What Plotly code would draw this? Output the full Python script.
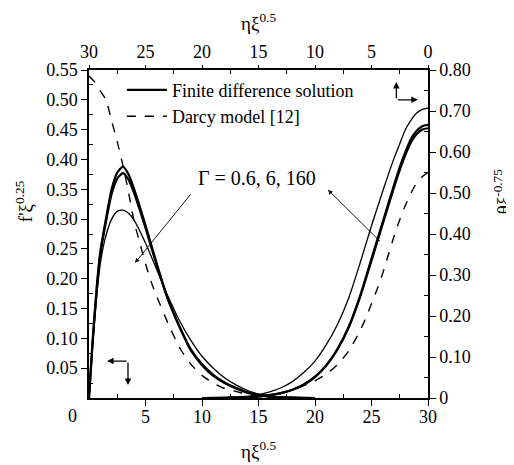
import plotly.graph_objects as go

# ---- velocity profiles f' xi^0.25 vs eta xi^0.5 (bottom / left axes) ----
eta_f = [0, 0.3, 0.7, 1.0, 1.4, 2.0, 2.5, 3.0, 3.5, 4.0, 5.0, 6.0, 7.0, 8.0, 9.0,
         10, 11, 12, 13, 14, 15, 16, 18, 20]
f_a = [0, 0.09, 0.19, 0.245, 0.29, 0.35, 0.378, 0.388, 0.375, 0.35, 0.29, 0.225,
       0.165, 0.12, 0.08, 0.055, 0.037, 0.025, 0.016, 0.009, 0.005, 0.002, 0.0005, 0]
f_b = [0, 0.088, 0.185, 0.24, 0.285, 0.342, 0.368, 0.377, 0.366, 0.343, 0.285, 0.222,
       0.165, 0.12, 0.082, 0.057, 0.039, 0.026, 0.017, 0.01, 0.005, 0.002, 0.0005, 0]
f_c = [0, 0.085, 0.175, 0.225, 0.265, 0.30, 0.313, 0.315, 0.31, 0.298, 0.26, 0.215,
       0.17, 0.13, 0.097, 0.07, 0.05, 0.034, 0.022, 0.013, 0.007, 0.003, 0.001, 0]
eta_fd = [0, 0.5, 1.0, 1.5, 2.0, 2.5, 3.0, 3.5, 4.0, 4.5, 5.0, 5.5, 6.0, 7.0, 8.0,
          9.0, 10, 11, 12, 13, 14, 15, 16, 18]
f_darcy = [0.54, 0.53, 0.515, 0.50, 0.465, 0.43, 0.39, 0.345, 0.295, 0.26, 0.225,
           0.195, 0.17, 0.125, 0.085, 0.057, 0.038, 0.025, 0.016, 0.011, 0.006,
           0.003, 0.001, 0]

# ---- temperature profiles theta xi^-0.75 vs eta xi^0.5 (top / right axes) ----
eta_t = [0, 0.5, 1.0, 1.5, 2.0, 2.5, 3.0, 4.0, 5.0, 6.0, 7.0, 8.0, 9.0, 10, 11,
         12, 13, 14, 15, 16, 18, 20]
t_a = [0.707, 0.704, 0.695, 0.678, 0.655, 0.62, 0.585, 0.505, 0.42, 0.33, 0.245,
       0.18, 0.13, 0.09, 0.062, 0.04, 0.025, 0.015, 0.008, 0.004, 0.001, 0]
t_b = [0.666, 0.663, 0.652, 0.632, 0.60, 0.563, 0.52, 0.43, 0.34, 0.25, 0.175,
       0.12, 0.08, 0.052, 0.033, 0.02, 0.012, 0.007, 0.004, 0.002, 0.0005, 0]
t_c = [0.658, 0.655, 0.644, 0.624, 0.593, 0.556, 0.514, 0.425, 0.335, 0.247, 0.173,
       0.119, 0.079, 0.051, 0.032, 0.02, 0.012, 0.007, 0.004, 0.002, 0.0005, 0]
eta_td = [0, 0.5, 1.0, 1.5, 2.0, 2.5, 3.0, 3.5, 4.0, 4.5, 5.0, 5.5, 6.0, 7.0, 8.0,
          9.0, 10, 11, 12, 13, 14, 15, 16, 18]
t_darcy = [0.55, 0.54, 0.525, 0.50, 0.47, 0.435, 0.395, 0.35, 0.305, 0.265, 0.23,
           0.195, 0.165, 0.115, 0.082, 0.058, 0.042, 0.03, 0.02, 0.013, 0.008,
           0.005, 0.002, 0]

bottom_ticks = [5, 10, 15, 20, 25, 30]
top_ticks = [30, 25, 20, 15, 10, 5, 0]
left_ticks = [0.05, 0.10, 0.15, 0.20, 0.25, 0.30, 0.35, 0.40, 0.45, 0.50, 0.55]
right_ticks = [0, 0.10, 0.20, 0.30, 0.40, 0.50, 0.60, 0.70, 0.80]

FONT = "Liberation Serif"
fig = go.Figure()

def line(x, y, w, dash, xa, ya, name=None, show=False):
    fig.add_trace(go.Scatter(x=x, y=y, mode="lines", xaxis=xa, yaxis=ya,
                             line=dict(color="black", width=w, dash=dash, shape="spline", smoothing=0.6),
                             name=name, showlegend=show, hoverinfo="skip"))

line(eta_f, f_a, 2.2, "solid", "x", "y", "Finite difference solution", True)
line(eta_f, f_b, 2.2, "solid", "x", "y")
line(eta_f, f_c, 1.3, "solid", "x", "y")
line(eta_fd, f_darcy, 1.4, "dash", "x", "y", "Darcy model [12]", True)
line(eta_t, t_a, 1.3, "solid", "x2", "y2")
line(eta_t, t_b, 2.2, "solid", "x2", "y2")
line(eta_t, t_c, 2.2, "solid", "x2", "y2")
line(eta_td, t_darcy, 1.4, "dash", "x2", "y2")

tickfont = dict(family=FONT, size=18, color="black")
common = dict(showline=True, linecolor="black", linewidth=1.5, showgrid=False,
              zeroline=False, ticks="outside", tickwidth=1.2,
              tickcolor="black", tickfont=tickfont)

fig.update_layout(
    width=506, height=457,
    margin=dict(l=81, r=86, t=62, b=67),
    paper_bgcolor="white", plot_bgcolor="white",
    font=dict(family=FONT, size=18, color="black"),
    xaxis=dict(range=[0, 30], tickmode="array", tickvals=bottom_ticks,
               ticktext=[str(v) for v in bottom_ticks], ticklabelstandoff=-4, ticklen=6,
               minor=dict(tickmode="array", tickvals=[2.5, 7.5, 12.5, 17.5, 22.5, 27.5],
                          ticks="inside", ticklen=4, tickcolor="black"),
               **common),
    xaxis2=dict(range=[30, 0], overlaying="x", side="top", tickmode="array",
                tickvals=top_ticks, ticktext=[str(v) for v in top_ticks],
                ticklen=3,
                minor=dict(tickmode="array", tickvals=[27.5, 22.5, 17.5, 12.5, 7.5, 2.5],
                           ticks="inside", ticklen=4, tickcolor="black"),
                **common),
    yaxis=dict(range=[0, 0.55], tickmode="array", tickvals=left_ticks,
               ticktext=[f"{v:.2f}" for v in left_ticks], ticklen=6,
               minor=dict(tickmode="array",
                          tickvals=[0.025 + 0.05 * i for i in range(11)],
                          ticks="inside", ticklen=4, tickcolor="black"),
               **common),
    yaxis2=dict(range=[0, 0.80], overlaying="y", side="right", tickmode="array",
                tickvals=right_ticks, ticklen=6,
                ticktext=["0"] + [f"{v:.2f}" for v in right_ticks[1:]],
                minor=dict(tickmode="array",
                           tickvals=[0.05 + 0.1 * i for i in range(8)],
                           ticks="inside", ticklen=4, tickcolor="black"),
                **common),
    legend=dict(x=0.097, y=0.995, xanchor="left", yanchor="top",
                bgcolor="rgba(0,0,0,0)", font=dict(family=FONT, size=18),
                itemwidth=40, tracegroupgap=0),
)

ann = []
# axis titles
ann.append(dict(text="ηξ<sup>0.5</sup>", x=0.5, y=1, xref="paper", yref="paper",
                xanchor="center", yanchor="bottom", yshift=34, showarrow=False,
                font=dict(family=FONT, size=19)))
ann.append(dict(text="ηξ<sup>0.5</sup>", x=0.5, y=0, xref="paper", yref="paper",
                xanchor="center", yanchor="top", yshift=-38, showarrow=False,
                font=dict(family=FONT, size=19)))
ann.append(dict(text="f'ξ<sup>0.25</sup>", x=0, y=0.6, xref="paper", yref="paper",
                xanchor="center", yanchor="middle", xshift=-65, textangle=-90,
                showarrow=False, font=dict(family=FONT, size=19)))
ann.append(dict(text="θξ<sup>-0.75</sup>", x=1, y=0.63, xref="paper", yref="paper",
                xanchor="center", yanchor="middle", xshift=74, textangle=-90,
                showarrow=False, font=dict(family=FONT, size=19)))
# corner zero label
ann.append(dict(text="0", x=0, y=0, xref="paper", yref="paper", xanchor="center",
                yanchor="top", xshift=-17, yshift=-6, showarrow=False,
                font=dict(family=FONT, size=18)))
# Gamma label and arrows
ann.append(dict(text="Γ = 0.6, 6, 160", x=14.9, y=0.369, xref="x", yref="y",
                showarrow=False, font=dict(family=FONT, size=20)))
arrow = dict(text="", showarrow=True, arrowhead=2, arrowsize=1, arrowwidth=0.9,
             arrowcolor="black", xref="x", yref="y", axref="x", ayref="y", standoff=0)
ann.append(dict(arrow, x=4.07, y=0.2265, ax=9.1, ay=0.344))
ann.append(dict(arrow, x=21.15, y=0.349, ax=25.9, ay=0.26))
# axis-indicator arrows (bottom-left: left/bottom axes; top-right: top/right axes)
ann.append(dict(arrow, x=1.6, y=0.062, ax=3.45, ay=0.062, arrowwidth=1.3))
ann.append(dict(arrow, x=3.45, y=0.022, ax=3.45, ay=0.062, arrowwidth=1.3))
ann.append(dict(arrow, x=27.2, y=0.53, ax=27.2, ay=0.50, arrowwidth=1.3))
ann.append(dict(arrow, x=29.1, y=0.50, ax=27.2, ay=0.50, arrowwidth=1.3))
fig.update_layout(annotations=ann)

fig.write_html("out.html")
